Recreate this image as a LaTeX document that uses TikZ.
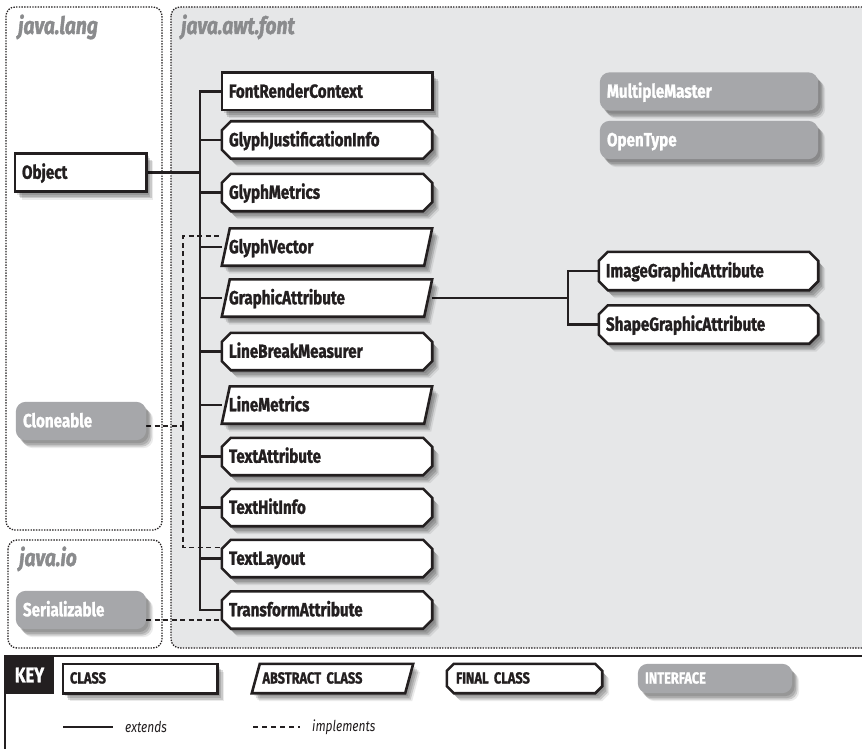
\documentclass[tikz,border=0pt]{standalone}
\usepackage{fontspec}
\usetikzlibrary{calc}
\newfontfamily\cfont{Fira Sans}[FakeStretch=0.8, BoldFeatures={FakeBold=1.2}, BoldItalicFeatures={FakeBold=1.6}]

\definecolor{pkgfill}{HTML}{E6E7E8}
\definecolor{ifcfill}{HTML}{A6A7AA}
\definecolor{pkgtext}{HTML}{8A8B8D}
\definecolor{ink}{HTML}{231F20}

\pgfdeclarelayer{pkg}
\pgfdeclarelayer{links}
\pgfdeclarelayer{boxes}
\pgfsetlayers{pkg,links,boxes,main}

\tikzset{
  boxlabel/.style={inner xsep=7pt, inner ysep=0pt, align=left, text=ink,
    font=\cfont\bfseries\fontsize{19}{21}\selectfont,
    text height=13.5pt, text depth=1pt},
  mainbox/.style={boxlabel, minimum width=210pt, text width=196pt, minimum height=37pt},
  sidebox/.style={boxlabel, minimum width=219pt, text width=205pt, minimum height=38pt},
  leftbox/.style={boxlabel, minimum width=131pt, text width=117pt, minimum height=38pt},
  keybox/.style={boxlabel, font=\cfont\bfseries\fontsize{16}{18}\selectfont,
    text height=11pt, minimum width=155pt, text width=140pt, minimum height=29pt},
  ifctext/.style={text=white},
  % soft drop shadow built from a few offset translucent copies
  softshadow/.style={
    preaction={fill=black, opacity=0.12, transform canvas={shift={(2.5pt,-3pt)}}},
    preaction={fill=black, opacity=0.14, transform canvas={shift={(4pt,-5pt)}}},
    preaction={fill=black, opacity=0.14, transform canvas={shift={(5.5pt,-6.5pt)}}},
    preaction={fill=black, opacity=0.08, transform canvas={shift={(7pt,-8pt)}}}},
  boxpath/.style={softshadow, draw=ink, line width=2.6pt, fill=white, line join=miter},
  ifcpath/.style={softshadow, fill=ifcfill, rounded corners=10pt},
  pkgframe/.style={draw=ink, line width=1.3pt, dash pattern=on 1.4pt off 1.3pt, rounded corners=9pt},
  pkglabel/.style={anchor=base west, inner sep=0pt, text=pkgtext,
    font=\cfont\bfseries\itshape\fontsize{24}{26}\selectfont},
  ext/.style={draw=ink, line width=2.2pt},
  impl/.style={draw=ink, line width=1.3pt, dash pattern=on 5pt off 3.5pt},
  keytext/.style={anchor=west, inner sep=0pt, text=ink,
    font=\cfont\itshape\fontsize{15}{17}\selectfont}
}

% outlines drawn around the (invisible) label nodes
\newcommand\drawcls[1]{\path[boxpath] (#1.north west) rectangle (#1.south east);}
\newcommand\drawabs[2][8pt]{\path[boxpath] ([xshift=#1]#2.north west) -- (#2.north east)
  -- ([xshift=-#1]#2.south east) -- (#2.south west) -- cycle;}
\newcommand\drawfin[2][9pt]{\path[boxpath] ([xshift=#1]#2.north west) -- ([xshift=-#1]#2.north east)
  -- ([yshift=-#1]#2.north east) -- ([yshift=#1]#2.south east) -- ([xshift=-#1]#2.south east)
  -- ([xshift=#1]#2.south west) -- ([yshift=#1]#2.south west) -- ([yshift=-#1]#2.north west) -- cycle;}
\newcommand\drawifc[1]{\path[ifcpath] (#1.north west) rectangle (#1.south east);}

\begin{document}
\begin{tikzpicture}[x=1pt, y=-1pt]
\useasboundingbox (0,0) rectangle (862,749);

% ---------- packages ----------
\begin{pgfonlayer}{pkg}
  \fill[white] (0,0) rectangle (862,749);
  \path[pkgframe, fill=pkgfill] (171,7) rectangle (885,648);
  \path[pkgframe] (6,7) rectangle (162,530);
  \path[pkgframe] (8,540) rectangle (162,648);
\end{pgfonlayer}
\node[pkglabel] (plang) at (18,34) {java.lang};
\node[pkglabel] (pfont) at (181,34) {java.awt.font};
\node[pkglabel] (pio)   at (19,566) {java.io};

% ---------- java.lang / java.io ----------
\node[leftbox] (obj) at (80.5,172.5) {Object};
\node[leftbox, ifctext, minimum width=130pt, text width=116pt] (clo) at (81,421) {Cloneable};
\node[leftbox, ifctext, minimum width=130pt, text width=116pt] (ser) at (81,610) {Serializable};

% ---------- java.awt.font ----------
\node[mainbox] (frc) at (327,91.5)  {FontRenderContext};
\node[mainbox] (gji) at (327,140)   {GlyphJustificationInfo};
\node[mainbox] (gm)  at (327,192.5) {GlyphMetrics};
\node[mainbox] (gv)  at (327,247)   {GlyphVector};
\node[mainbox] (ga)  at (327,298)   {GraphicAttribute};
\node[mainbox] (lbm) at (327,351.5) {LineBreakMeasurer};
\node[mainbox] (lm)  at (327,405)   {LineMetrics};
\node[mainbox] (ta)  at (327,456.5) {TextAttribute};
\node[mainbox] (thi) at (327,507.5) {TextHitInfo};
\node[mainbox] (tl)  at (327,558.5) {TextLayout};
\node[mainbox] (tra) at (327,610)   {TransformAttribute};

\node[sidebox] (iga) at (708.5,271)   {ImageGraphicAttribute};
\node[sidebox] (sga) at (708.5,324.5) {ShapeGraphicAttribute};
\node[sidebox, ifctext, minimum width=218pt, text width=204pt] (mm) at (709,91.5) {MultipleMaster};
\node[sidebox, ifctext, minimum width=218pt, text width=204pt] (ot) at (709,140)  {OpenType};

% ---------- key ----------
\node[fill=ink, text=white, minimum width=49pt, minimum height=38pt, inner sep=0pt,
  font=\cfont\bfseries\fontsize{21}{23}\selectfont] (key) at (29.5,675) {KEY};
\node[keybox, minimum width=154pt, text width=140pt] (kcls) at (140,678.5) {CLASS};
\node[keybox, minimum width=161pt, text width=140pt, inner xsep=10.5pt] (kabs) at (332.5,678.5) {ABSTRACT CLASS};
\node[keybox, inner xsep=9pt, text width=137pt] (kfin) at (524.5,678.5) {FINAL CLASS};
\node[keybox, ifctext, minimum width=154pt, text width=140pt] (kifc) at (715,678.5) {INTERFACE};
\node[keytext] (kext) at (125,727) {extends};
\node[keytext] (kimp) at (312,727) {implements};
\coordinate (kexta) at (63,727);
\coordinate (kimpa) at (253,727);

% ---------- outlines ----------
\begin{pgfonlayer}{boxes}
  \drawcls{obj}
  \drawifc{clo}
  \drawifc{ser}
  \drawcls{frc}
  \drawfin{gji}
  \drawfin{gm}
  \drawabs{gv}
  \drawabs{ga}
  \drawfin{lbm}
  \drawabs{lm}
  \drawfin{ta}
  \drawfin{thi}
  \drawfin{tl}
  \drawfin{tra}
  \drawfin{iga}
  \drawfin{sga}
  \drawifc{mm}
  \drawifc{ot}
  \drawcls{kcls}
  \drawabs{kabs}
  \drawfin[7pt]{kfin}
  \drawifc{kifc}
\end{pgfonlayer}

% ---------- connectors ----------
\begin{pgfonlayer}{links}
  \coordinate (trunk) at (200,172.5);
  \draw[ext] (obj.east) -- (trunk);
  \foreach \n in {frc,gji,gm,gv,ga,lbm,lm,ta,thi,tl,tra}
    \draw[ext] (trunk) |- (\n.west);

  \coordinate (gafork) at (568,298);
  \draw[ext] (ga.east) -- (gafork);
  \draw[ext] (gafork) |- (iga.west);
  \draw[ext] (gafork) |- (sga.west);

  \path ([yshift=-5pt]clo.east) coordinate (cloa);
  \coordinate (cfork) at (183,426);
  \draw[impl] (cloa) -- (cfork);
  \draw[impl] (cfork) |- ([yshift=11pt]gv.west);
  \draw[impl] (cfork) |- ([yshift=11pt]tl.west);

  \path ([yshift=-10pt]ser.east) coordinate (sera);
  \draw[impl] (sera) -- (sera -| tra.west);

  % key frame and sample lines
  \draw[ink, line width=1.5pt] (5,749) -- (5,656) -- (862,656);
  \draw[ext] (kexta) -- ++(50,0);
  \draw[impl, line width=1.1pt, dash pattern=on 5pt off 4pt] (kimpa) -- ++(47,0);
\end{pgfonlayer}
\end{tikzpicture}
\end{document}
